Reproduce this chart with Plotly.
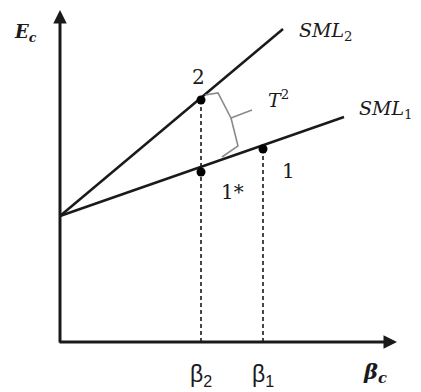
import plotly.graph_objects as go

# chart coordinates: origin at the axes corner
axis_len_x = 337
axis_len_y = 332
sml_intercept = 126
sml1_end = [284, 225]
sml2_end = [223, 313]

beta_names = ["β<sub>2</sub>", "β<sub>1</sub>"]
beta_x = [141, 203]

point_names = ["2", "1*", "1"]
point_x = [141, 141, 203]
point_y = [242, 170, 193]

# curly brace between the two lines (T^2)
brace_x = [145, 158, 171, 192, None, 171, 178, 162]
brace_y = [247, 249, 224, 232, None, 224, 196, 185]

ink = "#1a1a1a"
serif = "DejaVu Serif"

fig = go.Figure()

# security market lines
fig.add_trace(go.Scatter(x=[0, sml1_end[0]], y=[sml_intercept, sml1_end[1]],
                         mode="lines", line=dict(color=ink, width=2.5)))
fig.add_trace(go.Scatter(x=[0, sml2_end[0]], y=[sml_intercept, sml2_end[1]],
                         mode="lines", line=dict(color=ink, width=2.5)))

# dashed drop lines
for bx, py in [(point_x[0], point_y[0]), (point_x[2], point_y[2])]:
    fig.add_trace(go.Scatter(x=[bx, bx], y=[0, py], mode="lines",
                             line=dict(color=ink, width=1.6, dash="4px,3px")))

fig.add_trace(go.Scatter(x=brace_x, y=brace_y, mode="lines",
                         line=dict(color="#8a8a8a", width=1.6)))

fig.add_trace(go.Scatter(x=point_x, y=point_y, mode="markers",
                         marker=dict(color="black", size=9)))

# axes with arrows
fig.add_annotation(x=0, y=axis_len_y, ax=0, ay=-2, xref="x", yref="y", axref="x", ayref="y",
                   showarrow=True, arrowhead=2, arrowsize=0.9, arrowwidth=3, arrowcolor=ink, text="")
fig.add_annotation(x=axis_len_x, y=0, ax=-2, ay=0, xref="x", yref="y", axref="x", ayref="y",
                   showarrow=True, arrowhead=2, arrowsize=0.9, arrowwidth=3, arrowcolor=ink, text="")

labels = [
    ("<b><i>E<sub>c</sub></i></b>", -35, 309, "center", 18),
    ("<b><i>β<sub>c</sub></i></b>", 315, -30, "center", 21),
    ("<i>SML</i><sub>2</sub>", 237, 311, "left", 19),
    ("<i>SML</i><sub>1</sub>", 297, 233, "left", 19),
    ("<i>T</i><sup>2</sup>", 218, 243, "center", 19),
    ("2", 138, 265, "center", 20),
    ("1*", 172, 150, "center", 20),
    ("1", 228, 171, "center", 20),
]
for txt, lx, ly, anchor, size in labels:
    fig.add_annotation(x=lx, y=ly, xref="x", yref="y", text=txt, showarrow=False,
                       xanchor=anchor, font=dict(family=serif, size=size, color=ink))

for name, bx in zip(beta_names, beta_x):
    fig.add_annotation(x=bx, y=-33, xref="x", yref="y", text=name, showarrow=False,
                       font=dict(family="Liberation Sans", size=23, color=ink))

# page has an 8px body margin, so the figure is a bit smaller than the window
fig.update_layout(
    width=413, height=384,
    margin=dict(l=0, r=0, t=0, b=0),
    plot_bgcolor="white", paper_bgcolor="white",
    showlegend=False,
    xaxis=dict(range=[-52, 361], visible=False, fixedrange=True),
    yaxis=dict(range=[-50, 334], visible=False, fixedrange=True),
)

fig.write_html("out.html")
